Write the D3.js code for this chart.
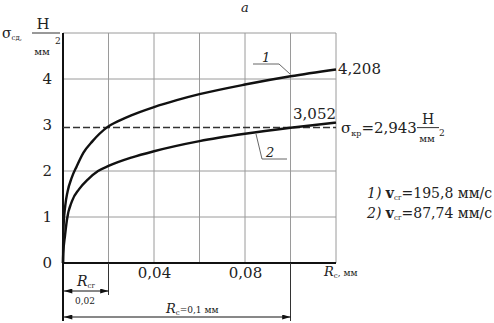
<!DOCTYPE html>
<html><head><meta charset="utf-8">
<script src="https://cdn.jsdelivr.net/npm/d3@7"></script>
<style>
body{margin:0;background:#fff;}
text{font-family:'DejaVu Serif','Liberation Serif',serif !important;}
</style></head>
<body><svg id="c" width="494" height="323"></svg>
<script>
// ---- data ----
const curve1X = [0, 0.0001, 0.0003, 0.001, 0.002, 0.0038, 0.006, 0.009, 0.013, 0.0192, 0.025, 0.03, 0.04, 0.05, 0.06, 0.08, 0.1, 0.12];
const curve1Y = [0, 0.55, 0.85, 1.25, 1.55, 1.85, 2.1, 2.4, 2.65, 2.943, 3.1, 3.21, 3.39, 3.54, 3.67, 3.88, 4.06, 4.208];
const curve2X = [0, 0.0001, 0.0009, 0.0017, 0.004, 0.007, 0.011, 0.0154, 0.02, 0.03, 0.04, 0.06, 0.08, 0.1, 0.12];
const curve2Y = [0, 0.2, 0.6, 0.93, 1.35, 1.6, 1.82, 2.0, 2.11, 2.29, 2.43, 2.65, 2.81, 2.94, 3.052];
const criticalValue = 2.943;
const yTicks = [0, 1, 2, 3, 4];
const xTickValues = [0.04, 0.08];
const xTickLabels = ["0,04", "0,08"];
const gridX = [0.02, 0.04, 0.06, 0.08, 0.1, 0.12];
const gridY = [1, 2, 4, 5];
const endLabel1 = "4,208";
const endLabel2 = "3,052";
const legendRows = [["1) ", "=195,8 мм/с"], ["2) ", "=87,74 мм/с"]];

// ---- scales ----
const svg = d3.select("#c");
const x = d3.scaleLinear().domain([0, 0.12]).range([63, 336]);
const y = d3.scaleLinear().domain([0, 5]).range([263, 33]);

// grid
svg.append("g").selectAll("line").data(gridX).join("line")
  .attr("x1", d => x(d)).attr("x2", d => x(d)).attr("y1", y(5)).attr("y2", y(0))
  .attr("stroke", "#9a9a9a").attr("stroke-width", 1);
svg.append("g").selectAll("line").data(gridY).join("line")
  .attr("x1", x(0)).attr("x2", x(0.12)).attr("y1", d => y(d)).attr("y2", d => y(d))
  .attr("stroke", "#9a9a9a").attr("stroke-width", 1);

// axes
const ax = svg.append("g").attr("transform", `translate(${x(0)},0)`)
  .call(d3.axisLeft(y).tickValues(yTicks).tickSize(0).tickPadding(11).tickFormat(d3.format("d")));
ax.select(".domain").remove();
ax.selectAll("text").attr("font-size", 15).attr("fill", "#222");

const bx = svg.append("g").attr("transform", `translate(0,${y(0)})`)
  .call(d3.axisBottom(x).tickValues(xTickValues).tickSize(0).tickPadding(4)
    .tickFormat((d, i) => xTickLabels[i]));
bx.select(".domain").remove();
bx.selectAll("text").attr("font-size", 15).attr("fill", "#222");

// axis lines
svg.append("line").attr("x1", x(0)).attr("x2", x(0)).attr("y1", y(5)).attr("y2", 321)
  .attr("stroke", "#111").attr("stroke-width", 2);
svg.append("line").attr("x1", x(0)).attr("x2", x(0.12)).attr("y1", y(0)).attr("y2", y(0))
  .attr("stroke", "#111").attr("stroke-width", 2);

// dashed critical line
svg.append("line").attr("x1", x(0)).attr("x2", x(0.12))
  .attr("y1", y(criticalValue)).attr("y2", y(criticalValue))
  .attr("stroke", "#333").attr("stroke-width", 1.5).attr("stroke-dasharray", "7,3");

// curves
const line = d3.line().x(d => x(d[0])).y(d => y(d[1])).curve(d3.curveMonotoneX);
const c1 = curve1X.map((v, i) => [v, curve1Y[i]]);
const c2 = curve2X.map((v, i) => [v, curve2Y[i]]);
[c1, c2].forEach(c => svg.append("path").datum(c).attr("d", line)
  .attr("fill", "none").attr("stroke", "#111").attr("stroke-width", 2.4));

// end labels
svg.append("text").attr("x", x(0.12) + 2).attr("y", y(curve1Y[curve1Y.length - 1]) + 5)
  .attr("font-size", 15).attr("fill", "#222").text(endLabel1);
svg.append("text").attr("x", x(0.12)).attr("y", y(curve2Y[curve2Y.length - 1]) - 4)
  .attr("text-anchor", "end").attr("font-size", 15).attr("fill", "#222").text(endLabel2);

// critical label
const cl = svg.append("text").attr("x", 341).attr("y", y(criticalValue) + 5).attr("font-size", 15).attr("fill", "#222");
cl.append("tspan").text("σ");
cl.append("tspan").attr("font-size", 8).attr("dy", 3).text("кр");
cl.append("tspan").attr("dy", -3).text("=2,943");
svg.append("text").attr("x", 428).attr("y", y(criticalValue) - 4).attr("text-anchor", "middle").attr("font-size", 14).attr("fill", "#222").text("Н");
svg.append("line").attr("x1", 417).attr("x2", 439).attr("y1", y(criticalValue)).attr("y2", y(criticalValue)).attr("stroke", "#333").attr("stroke-width", 1);
svg.append("text").attr("x", 427).attr("y", y(criticalValue) + 14).attr("text-anchor", "middle").attr("font-size", 10).attr("fill", "#222").text("мм");
svg.append("text").attr("x", 439).attr("y", y(criticalValue) + 8).attr("font-size", 9).attr("fill", "#222").text("2");

// y-axis title
const yt = svg.append("text").attr("x", 2).attr("y", 38).attr("font-size", 14).attr("fill", "#222");
yt.append("tspan").text("σ");
yt.append("tspan").attr("font-size", 7).attr("dy", 2).text("сд,");
svg.append("text").attr("x", 43).attr("y", 29).attr("text-anchor", "middle").attr("font-size", 15).attr("fill", "#222").text("Н");
svg.append("line").attr("x1", 32).attr("x2", 60).attr("y1", 33).attr("y2", 33).attr("stroke", "#333").attr("stroke-width", 1);
svg.append("text").attr("x", 42).attr("y", 55).attr("text-anchor", "middle").attr("font-size", 10).attr("fill", "#222").text("мм");
svg.append("text").attr("x", 55).attr("y", 44).attr("font-size", 9).attr("fill", "#222").text("2");

// x-axis title
const xt = svg.append("text").attr("x", 324).attr("y", 276).attr("font-size", 13).attr("fill", "#222");
xt.append("tspan").attr("font-style", "italic").text("R");
xt.append("tspan").attr("font-size", 7).attr("dy", 2).text("с");
xt.append("tspan").attr("dy", -2).attr("font-size", 9).text(", мм");

// top "a"
svg.append("text").attr("x", 245).attr("y", 12).attr("text-anchor", "middle").attr("font-size", 13)
  .attr("font-style", "italic").attr("fill", "#222").text("а");

// curve leader labels
svg.append("polyline").attr("points", "253,64 279,64 290,74").attr("fill", "none").attr("stroke", "#555").attr("stroke-width", 0.9);
svg.append("text").attr("x", 262).attr("y", 62).attr("font-size", 13).attr("font-style", "italic").attr("fill", "#222").text("1");
svg.append("polyline").attr("points", "256,134 262,159 287,159").attr("fill", "none").attr("stroke", "#555").attr("stroke-width", 0.9);
svg.append("text").attr("x", 266).attr("y", 157).attr("font-size", 13).attr("font-style", "italic").attr("fill", "#222").text("2");

// dimension annotations
const defs = svg.append("defs");
defs.append("marker").attr("id", "arr").attr("viewBox", "0 0 10 6").attr("refX", 10).attr("refY", 3)
  .attr("markerWidth", 10).attr("markerHeight", 5).attr("markerUnits", "userSpaceOnUse").attr("orient", "auto-start-reverse")
  .append("path").attr("d", "M0,0 L10,3 L0,6 Z").attr("fill", "#111");
svg.append("line").attr("x1", x(0.02)).attr("x2", x(0.02)).attr("y1", y(0)).attr("y2", 295).attr("stroke", "#333").attr("stroke-width", 1);
svg.append("line").attr("x1", x(0.1)).attr("x2", x(0.1)).attr("y1", y(0)).attr("y2", 321).attr("stroke", "#333").attr("stroke-width", 1);
svg.append("line").attr("x1", x(0) + 1).attr("x2", x(0.02)).attr("y1", 291).attr("y2", 291)
  .attr("stroke", "#111").attr("stroke-width", 1).attr("marker-start", "url(#arr)").attr("marker-end", "url(#arr)");
svg.append("line").attr("x1", x(0) + 1).attr("x2", x(0.1)).attr("y1", 317).attr("y2", 317)
  .attr("stroke", "#111").attr("stroke-width", 1).attr("marker-start", "url(#arr)").attr("marker-end", "url(#arr)");
const r1 = svg.append("text").attr("x", 77).attr("y", 286).attr("font-size", 14).attr("fill", "#222");
r1.append("tspan").attr("font-style", "italic").text("R");
r1.append("tspan").attr("font-size", 7).attr("dy", 2).text("сг");
svg.append("text").attr("x", 85).attr("y", 304).attr("text-anchor", "middle").attr("font-size", 9).attr("fill", "#222").text("0,02");
const r2 = svg.append("text").attr("x", 166).attr("y", 313).attr("font-size", 13).attr("fill", "#222");
r2.append("tspan").attr("font-style", "italic").text("R");
r2.append("tspan").attr("font-size", 7).attr("dy", 2).text("с");
r2.append("tspan").attr("dy", -2).attr("font-size", 9).text("=0,1 мм");

// legend
legendRows.forEach((r, i) => {
  const t = svg.append("text").attr("x", 367).attr("y", 198 + i * 20).attr("font-size", 14).attr("fill", "#222");
  t.append("tspan").attr("font-style", "italic").text(r[0]);
  t.append("tspan").attr("font-weight", "bold").text("v");
  t.append("tspan").attr("font-size", 7).attr("dy", 2).text("сг");
  t.append("tspan").attr("dy", -2).text(r[1]);
});
</script></body></html>
